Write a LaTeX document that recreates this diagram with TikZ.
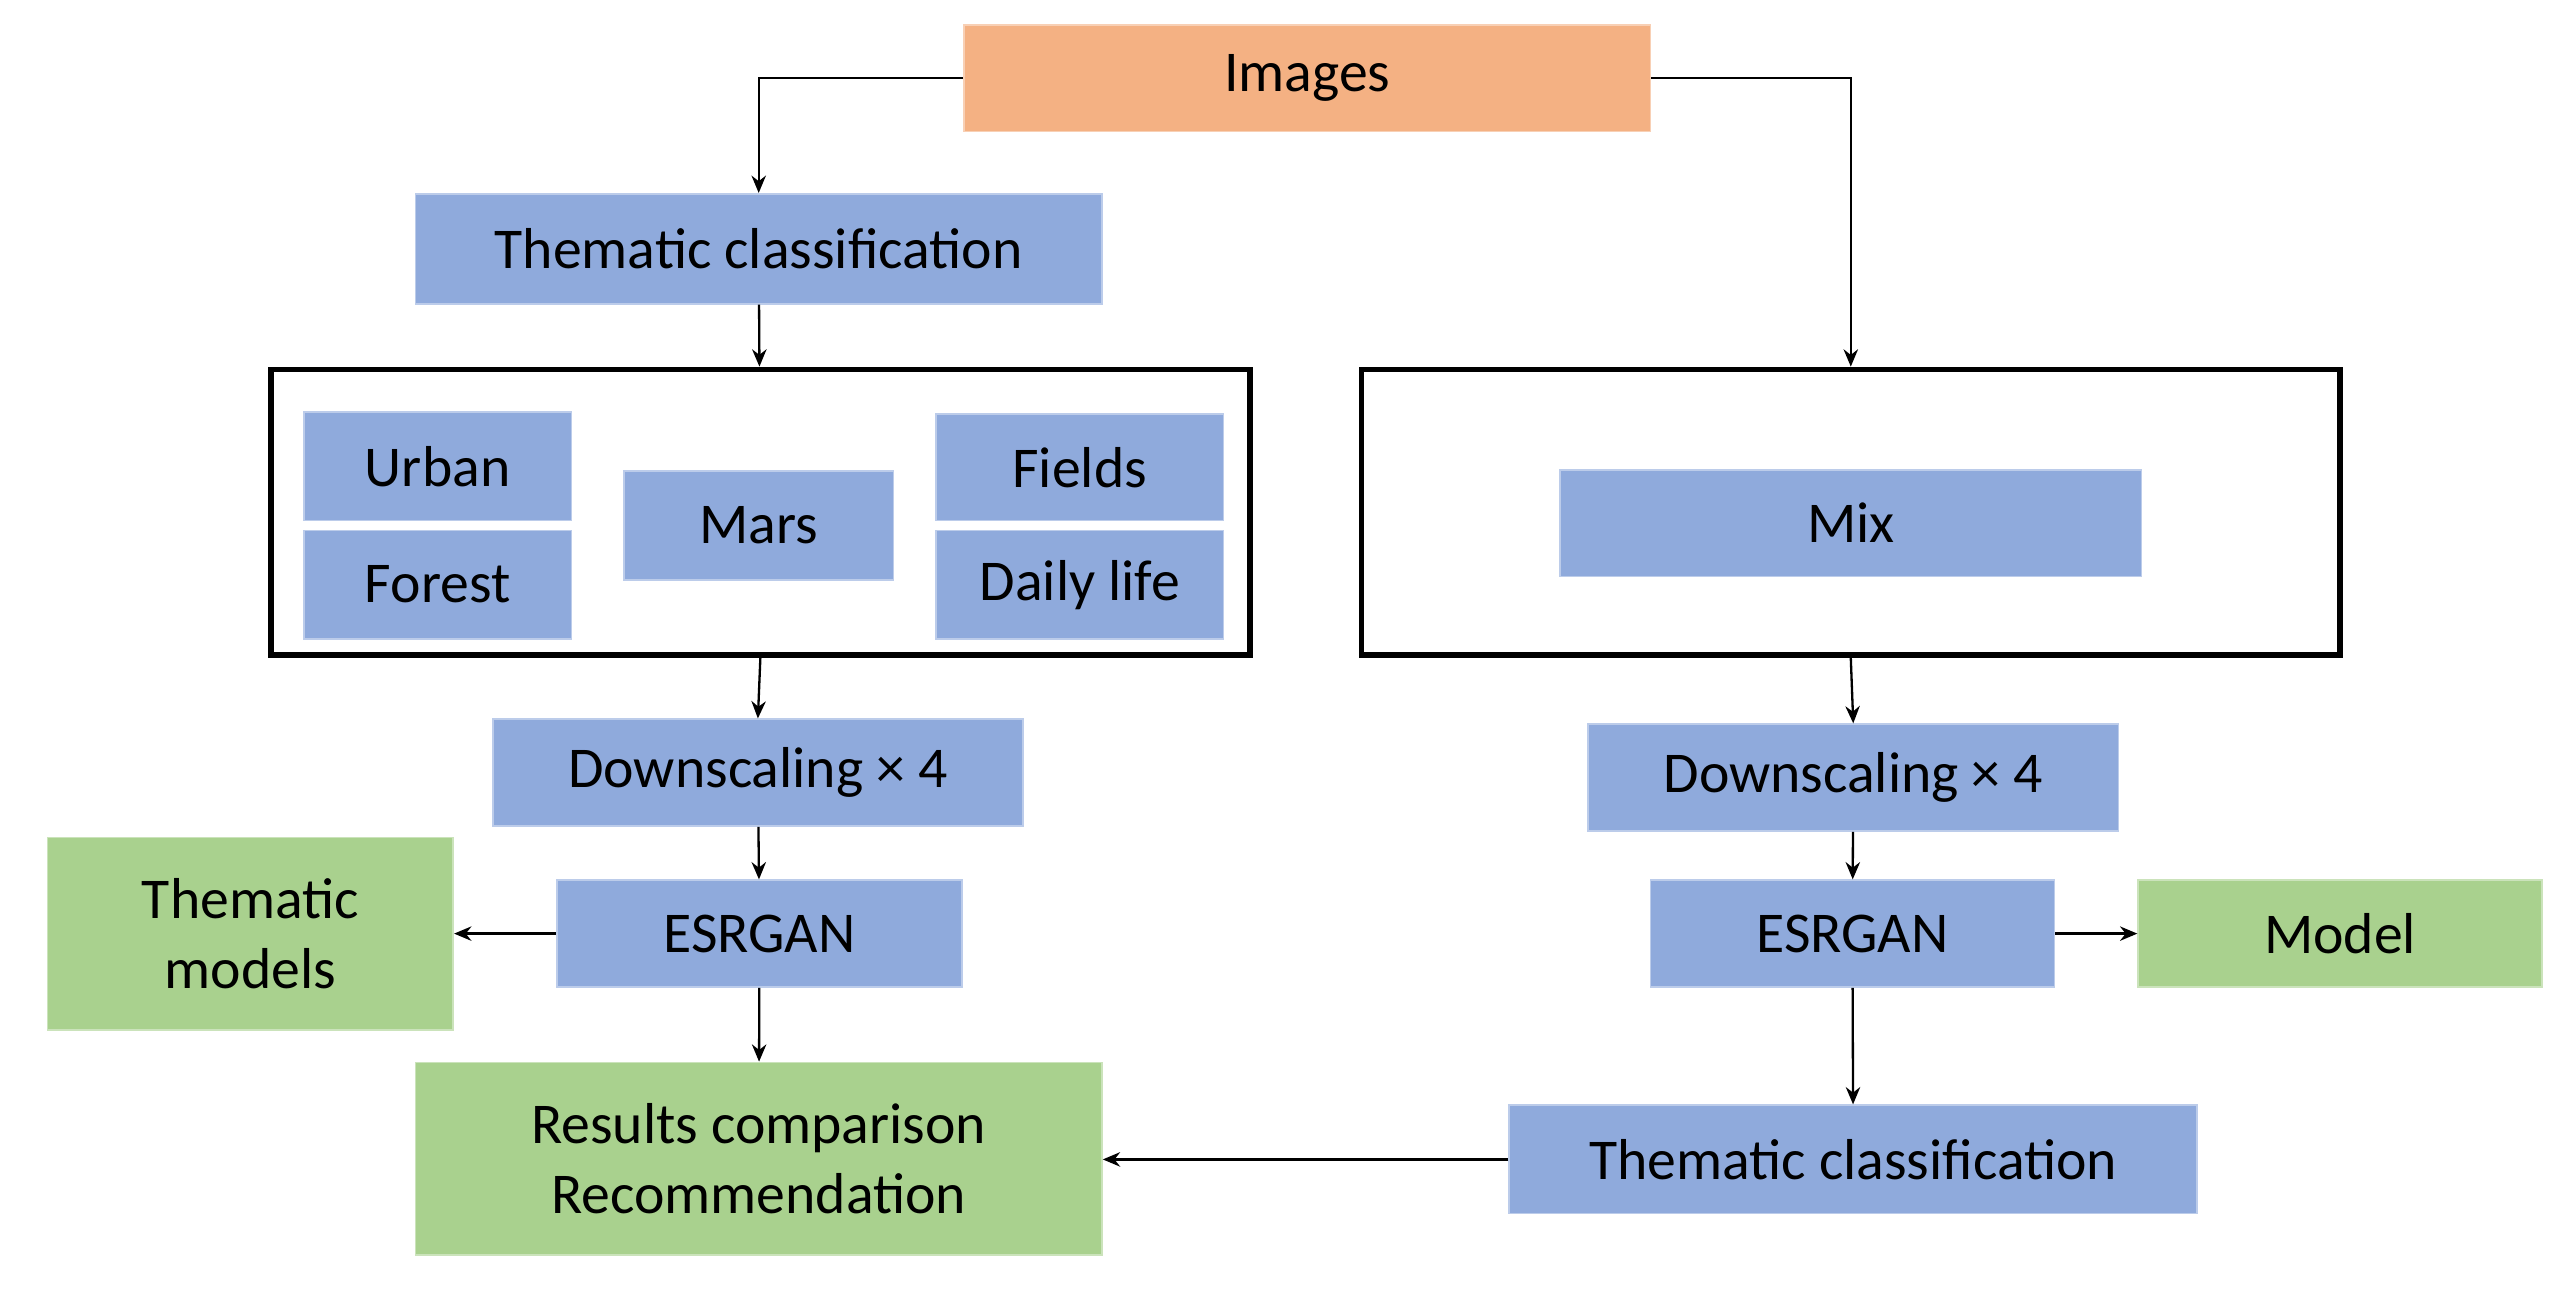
\documentclass[tikz,border=0pt]{standalone}
\usepackage{fontspec}
\setmainfont{Carlito}
\usetikzlibrary{arrows.meta}
\definecolor{blu}{HTML}{8FAADC}
\definecolor{org}{HTML}{F4B183}
\definecolor{grn}{HTML}{A9D18E}
\begin{document}
\begin{tikzpicture}[x=0.02cm,y=-0.02cm,
 bx/.style n args={2}{inner sep=0pt,minimum width={#1*0.02cm},minimum height={#2*0.02cm},align=center,font=\fontsize{20}{24}\selectfont},
 b/.style={fill=blu,draw=blu!60!white,line width=0.6pt},
 o/.style={fill=org,draw=org!60!white,line width=0.6pt},
 g/.style={fill=grn,draw=grn!60!white,line width=0.6pt},
 frame/.style={draw=black,line width=2pt},
 ar/.style={-{Stealth[length=6pt,width=5pt]},line width=0.8pt}]
\useasboundingbox (0,0) rectangle (1568,792);
\node[bx={418}{65},o] (img) at (796,47.5) {Images};
\node[bx={418}{67},b] (th1) at (462,151.5) {Thematic classification};
\node[bx={596}{174},frame] (lb) at (463,312) {};
\node[bx={163}{66},b] (urb) at (266.5,284) {Urban};
\node[bx={163}{66},b] (for) at (266.5,356) {Forest};
\node[bx={164}{66},b] (mars) at (462,320) {Mars};
\node[bx={175}{65},b] (fld) at (657.5,284.5) {Fields};
\node[bx={175}{66},b] (dly) at (657.5,356) {Daily life};
\node[bx={596}{174},frame] (rb) at (1127,312) {};
\node[bx={354}{65},b] (mix) at (1127,318.5) {Mix};
\node[bx={323}{65},b] (dl) at (461.5,470.5) {Downscaling × 4};
\node[bx={323}{65},b] (dr) at (1128.5,473.5) {Downscaling × 4};
\node[bx={247}{65},b] (el) at (462.5,568.5) {ESRGAN};
\node[bx={246}{65},b] (er) at (1128,568.5) {ESRGAN};
\node[bx={247}{117},g] (tm) at (152.5,568.5) {Thematic\\models};
\node[bx={246}{65},g] (mod) at (1425,568.5) {Model};
\node[bx={418}{117},g] (res) at (462,705.5) {Results comparison\\Recommendation};
\node[bx={419}{66},b] (th2) at (1128.5,706) {Thematic classification};
\draw[ar] (img.west) -| (th1.north);
\draw[ar] (img.east) -| (rb.north);
\draw[ar] (th1) -- (lb);
\draw[ar] (lb.south) -- (dl.north);
\draw[ar] (dl) -- (el);
\draw[ar] (el) -- (tm);
\draw[ar] (el) -- (res);
\draw[ar] (rb.south) -- (dr.north);
\draw[ar] (dr) -- (er);
\draw[ar] (er) -- (mod);
\draw[ar] (er) -- (th2);
\draw[ar] (th2) -- (res.east |- th2);
\end{tikzpicture}
\end{document}
